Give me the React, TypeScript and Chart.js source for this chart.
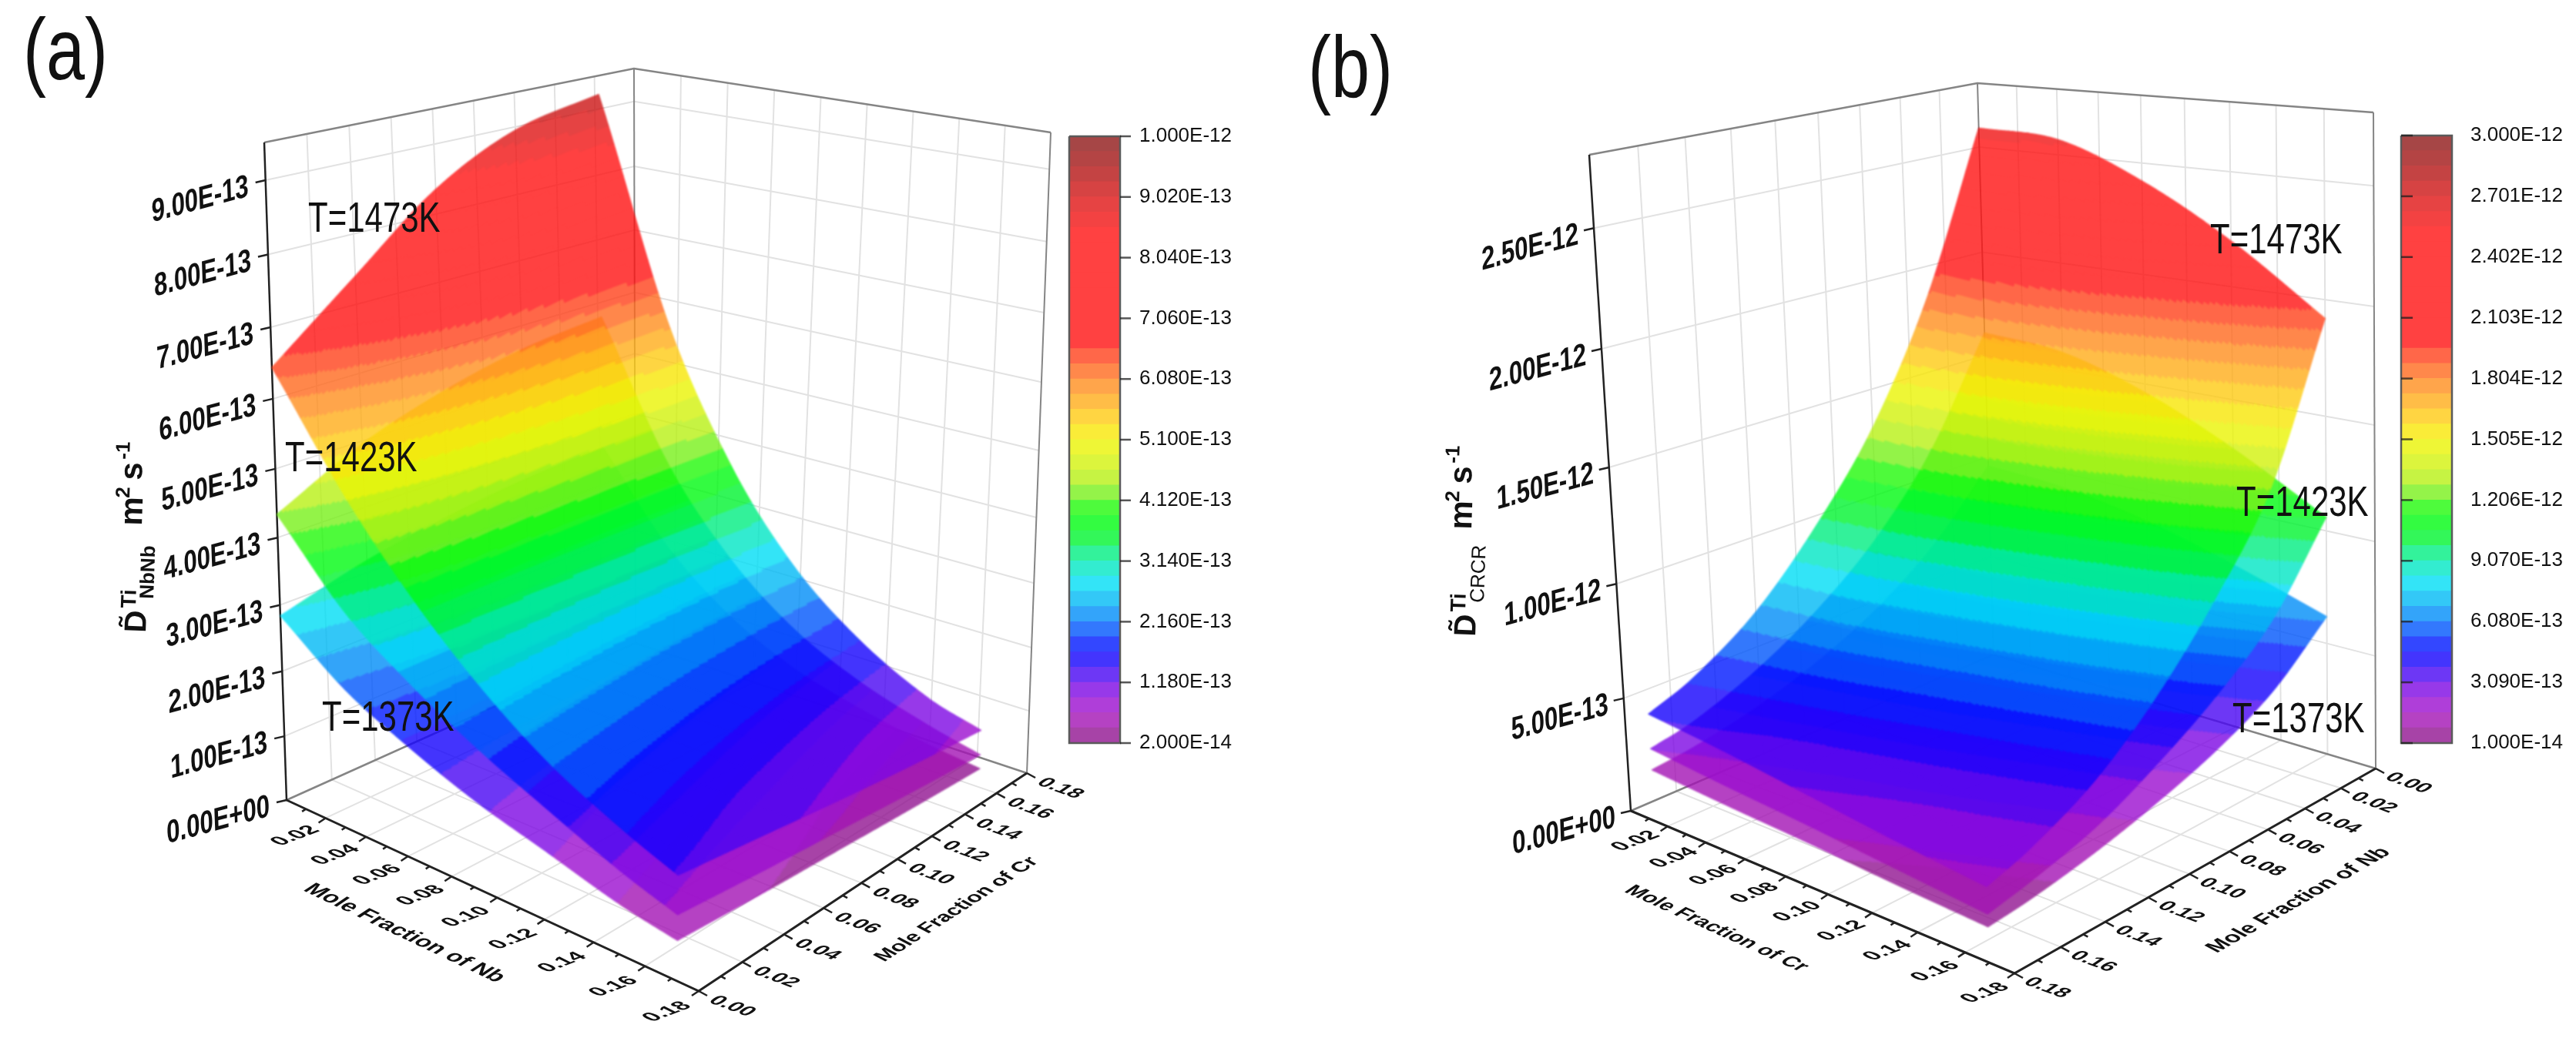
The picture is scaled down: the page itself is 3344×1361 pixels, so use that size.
import { useEffect, useRef } from "react";
import { Chart, registerables } from "chart.js";
Chart.register(...registerables);

const WIDTH = 3344;
const HEIGHT = 1361;
const FONT = '"Liberation Sans", Arial, sans-serif';

// ---- data ----
const nbNodes = [0, 0.03, 0.06, 0.09, 0.12, 0.15, 0.172];
const crNodes = [0, 0.04, 0.08, 0.12, 0.162];
const nbNodesB = [0, 0.03, 0.06, 0.09, 0.12, 0.15, 0.17];
const crNodesB = [0, 0.04, 0.08, 0.12, 0.16];

// panel (a), rows = Nb, columns = Cr, unit 1e-13
const a1473 = [
  [6.44, 7.4, 8.35, 8.95, 9.22],
  [4.95, 5.35, 5.65, 5.85, 5.95],
  [3.8, 3.85, 3.88, 3.9, 3.9],
  [2.9, 2.8, 2.7, 2.62, 2.55],
  [2.2, 2.05, 1.9, 1.78, 1.68],
  [1.7, 1.52, 1.37, 1.23, 1.1],
  [1.4, 1.25, 1.1, 0.97, 0.86],
];
const a1423 = [
  [4.34, 4.95, 5.35, 5.62, 5.76],
  [3.25, 3.5, 3.62, 3.68, 3.7],
  [2.55, 2.52, 2.48, 2.44, 2.4],
  [2.0, 1.88, 1.77, 1.66, 1.55],
  [1.55, 1.4, 1.26, 1.13, 1.02],
  [1.13, 1.0, 0.88, 0.77, 0.67],
  [0.88, 0.76, 0.66, 0.56, 0.47],
];
const a1373 = [
  [2.84, 3.18, 3.4, 3.55, 3.62],
  [2.1, 2.22, 2.28, 2.3, 2.3],
  [1.62, 1.58, 1.53, 1.48, 1.44],
  [1.24, 1.14, 1.05, 0.97, 0.9],
  [0.96, 0.84, 0.74, 0.65, 0.58],
  [0.68, 0.58, 0.5, 0.42, 0.36],
  [0.54, 0.45, 0.38, 0.31, 0.25],
];
// panel (b), rows = Nb, columns = Cr, unit 1e-12
const b1473 = [
  [2.59, 2.57, 2.42, 2.2, 1.92],
  [1.85, 1.8, 1.68, 1.5, 1.29],
  [1.32, 1.27, 1.17, 1.05, 0.92],
  [0.95, 0.9, 0.82, 0.73, 0.63],
  [0.66, 0.62, 0.55, 0.48, 0.41],
  [0.47, 0.42, 0.37, 0.32, 0.27],
  [0.39, 0.35, 0.3, 0.25, 0.207],
];
const b1423 = [
  [1.61, 1.58, 1.46, 1.28, 1.06],
  [1.13, 1.09, 0.99, 0.86, 0.72],
  [0.8, 0.76, 0.68, 0.6, 0.51],
  [0.57, 0.53, 0.47, 0.41, 0.35],
  [0.4, 0.36, 0.32, 0.27, 0.22],
  [0.28, 0.25, 0.21, 0.18, 0.14],
  [0.235, 0.2, 0.17, 0.135, 0.1],
];
const b1373 = [
  [0.955, 0.93, 0.86, 0.75, 0.62],
  [0.67, 0.64, 0.58, 0.5, 0.41],
  [0.47, 0.44, 0.4, 0.34, 0.28],
  [0.33, 0.3, 0.27, 0.23, 0.19],
  [0.23, 0.21, 0.18, 0.15, 0.12],
  [0.165, 0.145, 0.12, 0.095, 0.07],
  [0.14, 0.115, 0.095, 0.07, 0.05],
];

const fractionTicks = [0.02, 0.04, 0.06, 0.08, 0.1, 0.12, 0.14, 0.16, 0.18];
const fractionLabelsV = ["0.00", "0.02", "0.04", "0.06", "0.08", "0.10", "0.12", "0.14", "0.16", "0.18"];
const zTickValuesA = [0, 1e-13, 2e-13, 3e-13, 4e-13, 5e-13, 6e-13, 7e-13, 8e-13, 9e-13];
const zTickLabelsA = ["0.00E+00", "1.00E-13", "2.00E-13", "3.00E-13", "4.00E-13", "5.00E-13", "6.00E-13", "7.00E-13", "8.00E-13", "9.00E-13"];
const zTickValuesB = [0, 5e-13, 1e-12, 1.5e-12, 2e-12, 2.5e-12];
const zTickLabelsB = ["0.00E+00", "5.00E-13", "1.00E-12", "1.50E-12", "2.00E-12", "2.50E-12"];
const cbValuesA = [1e-12, 9.02e-13, 8.04e-13, 7.06e-13, 6.08e-13, 5.1e-13, 4.12e-13, 3.14e-13, 2.16e-13, 1.18e-13, 2e-14];
const cbLabelsA = ["1.000E-12", "9.020E-13", "8.040E-13", "7.060E-13", "6.080E-13", "5.100E-13", "4.120E-13", "3.140E-13", "2.160E-13", "1.180E-13", "2.000E-14"];
const cbValuesB = [3e-12, 2.701e-12, 2.402e-12, 2.103e-12, 1.804e-12, 1.505e-12, 1.206e-12, 9.07e-13, 6.08e-13, 3.09e-13, 1e-14];
const cbLabelsB = ["3.000E-12", "2.701E-12", "2.402E-12", "2.103E-12", "1.804E-12", "1.505E-12", "1.206E-12", "9.070E-13", "6.080E-13", "3.090E-13", "1.000E-14"];

// colour scale stops: position along the bar, r, g, b
const colourStops = [
  [0, 130, 20, 125], [0.025, 160, 20, 165], [0.05, 165, 18, 195], [0.075, 145, 10, 220], [0.1, 105, 5, 235], [0.125, 40, 5, 250], [0.15, 0, 0, 255],
  [0.17, 0, 40, 255], [0.2, 0, 120, 250], [0.24, 0, 190, 245], [0.265, 0, 225, 245], [0.3, 0, 235, 170],
  [0.34, 0, 245, 40], [0.38, 0, 255, 0], [0.4, 90, 240, 30], [0.44, 190, 240, 20], [0.5, 245, 245, 0],
  [0.54, 255, 200, 20], [0.59, 255, 140, 30], [0.63, 255, 80, 30], [0.66, 255, 18, 18], [0.84, 255, 18, 18],
  [0.9, 215, 20, 20], [0.95, 170, 20, 20], [1, 135, 25, 25],
];
const LEVELS = 40;
const ALPHA = 0.8;

// ---- view geometry ----
function quadMap(p0, p1, p2, p3) {
  const [x0, y0] = p0, [x1, y1] = p1, [x2, y2] = p2, [x3, y3] = p3;
  const dx1 = x1 - x2, dx2 = x3 - x2, sx = x0 - x1 + x2 - x3;
  const dy1 = y1 - y2, dy2 = y3 - y2, sy = y0 - y1 + y2 - y3;
  const det = dx1 * dy2 - dx2 * dy1;
  const g = (sx * dy2 - dx2 * sy) / det, h = (dx1 * sy - sx * dy1) / det;
  const a = x1 - x0 + g * x1, b = x3 - x0 + h * x3, d = y1 - y0 + g * y1, e = y3 - y0 + h * y3;
  return (u, v) => {
    const w = g * u + h * v + 1;
    return [(a * u + b * v + x0) / w, (d * u + e * v + y0) / w];
  };
}

function makeView(o) {
  const floor = quadMap(o.L, o.F, o.R, o.B);
  const top = quadMap(o.TL, o.TF, o.TR, o.TB);
  const project = (u, v, z) => {
    const f = floor(u, v), t = top(u, v);
    const w = z / o.zMax;
    const s = w / (1 + o.q * (1 - w));
    return { x: f[0] + (t[0] - f[0]) * s, y: f[1] + (t[1] - f[1]) * s };
  };
  return { ...o, project };
}

const viewA = makeView({
  L: [372, 1039], F: [907, 1287], R: [1333, 1004], B: [825, 835],
  TL: [343, 185], TF: [915, 270], TR: [1364, 172], TB: [823, 89],
  zMax: 9.5e-13, q: 0.095,
  toUV: (nb, cr) => [nb / 0.18, cr / 0.18],
  cMin: 2e-14, cMax: 1e-12,
});
const viewB = makeView({
  L: [2117, 1053], F: [2615, 1264], R: [3084, 998], B: [2588, 850],
  TL: [2063, 201], TF: [2582, 261], TR: [3081, 146], TB: [2567, 108],
  zMax: 2.8e-12, q: 0.05,
  toUV: (nb, cr) => [cr / 0.18, 1 - nb / 0.18],
  cMin: 1e-14, cMax: 3e-12,
});

function colourAt(t) {
  for (let i = 1; i < colourStops.length; i++) {
    if (t <= colourStops[i][0]) {
      const a = colourStops[i - 1], b = colourStops[i];
      const k = (t - a[0]) / (b[0] - a[0]);
      return [a[1] + (b[1] - a[1]) * k, a[2] + (b[2] - a[2]) * k, a[3] + (b[3] - a[3]) * k];
    }
  }
  return colourStops[colourStops.length - 1].slice(1);
}
const levelColour = (i) => colourAt((i + 0.5) / LEVELS);
const css = (c) => `rgb(${Math.round(c[0])},${Math.round(c[1])},${Math.round(c[2])})`;
const onWhite = (c) => c.map((v) => v * ALPHA + 255 * (1 - ALPHA));

// Hermite curve through table nodes, only used to shade between the read values
function curve(xs, ys, x) {
  const n = xs.length;
  let i = 0;
  while (i < n - 2 && x > xs[i + 1]) i++;
  const h = xs[i + 1] - xs[i];
  const slope = (j) =>
    j === 0 ? (ys[1] - ys[0]) / (xs[1] - xs[0])
      : j === n - 1 ? (ys[n - 1] - ys[n - 2]) / (xs[n - 1] - xs[n - 2])
        : (ys[j + 1] - ys[j - 1]) / (xs[j + 1] - xs[j - 1]);
  const t = (x - xs[i]) / h, t2 = t * t, t3 = t2 * t;
  return (2 * t3 - 3 * t2 + 1) * ys[i] + (t3 - 2 * t2 + t) * h * slope(i) + (-2 * t3 + 3 * t2) * ys[i + 1] + (t3 - t2) * h * slope(i + 1);
}

// ---- chart content ----
function line(points, color, width, order) {
  return {
    type: "scatter", showLine: true, data: points, borderColor: color, backgroundColor: color,
    borderWidth: width, pointRadius: 0, order, tension: 0, borderCapStyle: "butt", borderJoinStyle: "miter",
  };
}

function axesFor(view, zValues, ds) {
  const GRID = "#e2e2e2", EDGE = "#858585", AXIS = "#222222";
  const p = view.project;
  const K = [1, 2, 3, 4, 5, 6, 7, 8].map((k) => k / 9);
  for (const k of K) {
    ds.push(line([p(0, k, 0), p(0, k, view.zMax)], GRID, 2, 5));
    ds.push(line([p(k, 1, 0), p(k, 1, view.zMax)], GRID, 2, 5));
    ds.push(line([p(k, 0, 0), p(k, 1, 0)], GRID, 2, 5));
    ds.push(line([p(0, k, 0), p(1, k, 0)], GRID, 2, 5));
  }
  for (const z of zValues) {
    if (z === 0) continue;
    ds.push(line([p(0, 0, z), p(0, 1, z)], GRID, 2, 5));
    ds.push(line([p(0, 1, z), p(1, 1, z)], GRID, 2, 5));
  }
  ds.push(line([p(0, 0, view.zMax), p(0, 1, view.zMax), p(1, 1, view.zMax)], EDGE, 2.5, 4));
  ds.push(line([p(0, 1, 0), p(0, 1, view.zMax)], EDGE, 2, 4));
  ds.push(line([p(1, 1, 0), p(1, 1, view.zMax)], EDGE, 2, 4));
  ds.push(line([p(0, 0, 0), p(0, 1, 0), p(1, 1, 0)], EDGE, 2.5, 4));
  ds.push(line([p(0, 0, 0), p(0, 0, view.zMax)], AXIS, 2.5, 3));
  ds.push(line([p(0, 0, 0), p(1, 0, 0), p(1, 1, 0)], AXIS, 3, 3));
  for (let i = 1; i <= 18; i++) {
    const major = i % 2 === 0;
    const a = p(i / 18, 0, 0);
    const k = major ? 1 : 0.55;
    ds.push(line([a, { x: a.x - 9 * k, y: a.y + 6 * k }], AXIS, 2.5, 3));
  }
  for (let i = 0; i <= 18; i++) {
    const major = i % 2 === 0;
    const a = p(1, i / 18, 0);
    const k = major ? 1 : 0.55;
    ds.push(line([a, { x: a.x + 11 * k, y: a.y + 6 * k }], AXIS, 2.5, 3));
  }
  for (const z of zValues) {
    const a = p(0, 0, z);
    ds.push(line([a, { x: a.x - 13, y: a.y + 3 }], AXIS, 2.5, 3));
  }
}

function colourBar(view, bar, cbValues, ds) {
  const yOf = (v) => bar.top + ((view.cMax - v) / (view.cMax - view.cMin)) * (bar.bottom - bar.top);
  const step = (view.cMax - view.cMin) / LEVELS;
  const cx = (bar.left + bar.right) / 2;
  for (let i = 0; i < LEVELS; i++) {
    const lo = view.cMin + i * step, hi = lo + step;
    ds.push(line([{ x: cx, y: yOf(lo) + 0.5 }, { x: cx, y: yOf(hi) - 0.5 }], css(onWhite(levelColour(i))), bar.right - bar.left, 6));
  }
  ds.push(line([
    { x: bar.left, y: bar.top }, { x: bar.right, y: bar.top }, { x: bar.right, y: bar.bottom },
    { x: bar.left, y: bar.bottom }, { x: bar.left, y: bar.top },
  ], "#5a5a5a", 2.5, 2));
  for (const v of cbValues) {
    const y = yOf(v);
    const pts = bar.tickInside
      ? [{ x: bar.left, y }, { x: bar.left + 15, y }]
      : [{ x: bar.right, y }, { x: bar.right + 14, y }];
    ds.push(line(pts, "rgba(30,30,30,0.75)", 2.5, 1));
  }
  return yOf;
}

function surfaceSet(view, table, unit, nbs, crs) {
  const pts = [];
  nbs.forEach((nb, i) => crs.forEach((cr, j) => {
    const [u, v] = view.toUV(nb, cr);
    pts.push(view.project(u, v, table[i][j] * unit));
  }));
  return {
    type: "scatter", data: pts, showLine: false, pointRadius: 0, order: 7,
    surface: { view, table, unit, nbs, crs },
  };
}

function text(list, t, x, y, font, m, align, baseline, color) {
  list.push({ t, x, y, font, m: m || [1, 0, 0, 1], align: align || "left", baseline: baseline || "middle", color: color || "#111" });
}

function buildAll() {
  const ds = [];
  const tx = [];
  const B = `bold`;

  // panel (a)
  axesFor(viewA, zTickValuesA, ds);
  const yA = colourBar(viewA, { left: 1388, right: 1454, top: 177, bottom: 965, tickInside: false }, cbValuesA, ds);
  // panel (b)
  axesFor(viewB, zTickValuesB, ds);
  const yB = colourBar(viewB, { left: 3117, right: 3183, top: 176, bottom: 965, tickInside: true }, cbValuesB, ds);

  ds.push(surfaceSet(viewA, a1373, 1e-13, nbNodes, crNodes));
  ds.push(surfaceSet(viewA, a1423, 1e-13, nbNodes, crNodes));
  ds.push(surfaceSet(viewA, a1473, 1e-13, nbNodes, crNodes));
  ds.push(surfaceSet(viewB, b1373, 1e-12, nbNodesB, crNodesB));
  ds.push(surfaceSet(viewB, b1423, 1e-12, nbNodesB, crNodesB));
  ds.push(surfaceSet(viewB, b1473, 1e-12, nbNodesB, crNodesB));

  const zMat = [1, -0.27, 0.05, 1.35];
  zTickValuesA.forEach((z, i) => {
    const a = viewA.project(0, 0, z);
    text(tx, zTickLabelsA[i], a.x - 22, a.y + 9, `${B} 31px ${FONT}`, zMat, "right");
  });
  zTickValuesB.forEach((z, i) => {
    const a = viewB.project(0, 0, z);
    text(tx, zTickLabelsB[i], a.x - 20, a.y + 9, `${B} 31px ${FONT}`, zMat, "right");
  });
  cbValuesA.forEach((v, i) => text(tx, cbLabelsA[i], 1479, yA(v), `26px ${FONT}`));
  cbValuesB.forEach((v, i) => text(tx, cbLabelsB[i], 3207, yB(v), `26px ${FONT}`));

  const tickFont = `bold 27px ${FONT}`;
  const upLeft = [1, -0.38, 0.9, 0.45];
  const downRight = [1, 0.37, -0.78, 0.52];
  fractionTicks.forEach((f, i) => {
    const a = viewA.project(f / 0.18, 0, 0);
    text(tx, f.toFixed(2), a.x - 13 - i * 0.2, a.y + 13 + i * 0.5, tickFont, upLeft, "right");
    const b = viewB.project(f / 0.18, 0, 0);
    text(tx, f.toFixed(2), b.x - 15 + i * 0.4, b.y + 9 + i * 0.8, tickFont, upLeft, "right");
  });
  fractionLabelsV.forEach((lab, i) => {
    const a = viewA.project(1, i / 9, 0);
    text(tx, lab, a.x + 17, a.y + 10, tickFont, downRight, "left");
    const b = viewB.project(1, i / 9, 0);
    text(tx, fractionLabelsV[9 - i], b.x + 16, b.y + 9, tickFont, downRight, "left");
  });

  text(tx, "Mole Fraction of Nb", 525, 1212, `bold 30px ${FONT}`, [0.9, 0.43, -0.78, 0.52], "center");
  text(tx, "Mole Fraction of Cr", 1242, 1181, `bold 26px ${FONT}`, [0.85, -0.55, 0.9, 0.48], "center");
  text(tx, "Mole Fraction of Cr", 2228, 1206, `bold 28px ${FONT}`, [0.9, 0.41, -0.78, 0.52], "center");
  text(tx, "Mole Fraction of Nb", 2984, 1169, `bold 28px ${FONT}`, [0.87, -0.5, 0.9, 0.48], "center");

  const tMat = [1, 0, 0, 1.33];
  const tFont = `42px ${FONT}`;
  text(tx, "T=1473K", 400, 301, tFont, tMat, "left", "alphabetic");
  text(tx, "T=1423K", 370, 612, tFont, tMat, "left", "alphabetic");
  text(tx, "T=1373K", 418, 949, tFont, tMat, "left", "alphabetic");
  text(tx, "T=1473K", 2869, 329, tFont, tMat, "left", "alphabetic");
  text(tx, "T=1423K", 2903, 670, tFont, tMat, "left", "alphabetic");
  text(tx, "T=1373K", 2898, 951, tFont, tMat, "left", "alphabetic");

  const pMat = [1, 0, 0, 1.25];
  text(tx, "(a)", 30, 103, `90px ${FONT}`, pMat, "left", "alphabetic");
  text(tx, "(b)", 1698, 126, `90px ${FONT}`, pMat, "left", "alphabetic");

  // rotated axis titles
  const R = [0.035, -0.999, 0.999, 0.035];
  const title = (dx, dy, sub, subX, subFont) => {
    text(tx, "D\u0303", 189 + dx, 822 + dy, `bold 40px ${FONT}`, R, "left", "alphabetic");
    text(tx, "Ti", 176 + dx, 790 + dy, `bold 28px ${FONT}`, R, "left", "alphabetic");
    text(tx, sub, subX, 778 + dy, subFont, R, "left", "alphabetic");
    text(tx, "m", 184 + dx, 683 + dy, `bold 42px ${FONT}`, R, "left", "alphabetic");
    text(tx, "2", 168 + dx, 647 + dy, `bold 26px ${FONT}`, R, "left", "alphabetic");
    text(tx, "s", 184 + dx, 624 + dy, `bold 42px ${FONT}`, R, "left", "alphabetic");
    text(tx, "-1", 168 + dx, 597 + dy, `bold 26px ${FONT}`, R, "left", "alphabetic");
  };
  title(0, 0, "NbNb", 199, `bold 26px ${FONT}`);
  title(1726, 5, "CRCR", 1926, `26px ${FONT}`);

  return { ds, tx };
}

function paintSurface(chart, ctx, s, off, offCtx) {
  const { view, table, unit, nbs, crs } = s;
  const sx = chart.scales.x, sy = chart.scales.y;
  const NX = 300, NY = 220;
  const grid = [];
  const nbMax = nbs[nbs.length - 1], crMax = crs[crs.length - 1];
  for (let j = 0; j <= NY; j++) {
    const cr = (crMax * j) / NY;
    const col = table.map((r) => curve(crs, r, cr));
    const row = [];
    for (let i = 0; i <= NX; i++) {
      const nb = (nbMax * i) / NX;
      const z = curve(nbs, col, nb) * unit;
      const [u, v] = view.toUV(nb, cr);
      const p = view.project(u, v, z);
      row.push([sx.getPixelForValue(p.x), sy.getPixelForValue(p.y), z]);
    }
    grid.push(row);
  }
  const paths = Array.from({ length: LEVELS }, () => new Path2D());
  for (let j = 0; j < NY; j++) {
    for (let i = 0; i < NX; i++) {
      const a = grid[j][i], b = grid[j][i + 1], c = grid[j + 1][i + 1], d = grid[j + 1][i];
      const z = (a[2] + b[2] + c[2] + d[2]) / 4;
      const t = (z - view.cMin) / (view.cMax - view.cMin);
      const lvl = Math.max(0, Math.min(LEVELS - 1, Math.floor(t * LEVELS)));
      const path = paths[lvl];
      path.moveTo(a[0], a[1]);
      path.lineTo(b[0], b[1]);
      path.lineTo(c[0], c[1]);
      path.lineTo(d[0], d[1]);
      path.closePath();
    }
  }
  offCtx.clearRect(0, 0, off.width, off.height);
  offCtx.lineWidth = 1.2;
  offCtx.lineJoin = "round";
  paths.forEach((path, i) => {
    const col = css(levelColour(i));
    offCtx.fillStyle = col;
    offCtx.strokeStyle = col;
    offCtx.stroke(path);
    offCtx.fill(path);
  });
  ctx.save();
  ctx.globalAlpha = ALPHA;
  ctx.filter = "blur(1.3px)";
  ctx.drawImage(off, 0, 0);
  ctx.restore();
}

const artPlugin = {
  id: "art",
  afterDatasetsDraw(chart) {
    const ctx = chart.ctx;
    const off = document.createElement("canvas");
    off.width = chart.width;
    off.height = chart.height;
    const offCtx = off.getContext("2d");
    chart.data.datasets.forEach((d) => {
      if (d.surface) paintSurface(chart, ctx, d.surface, off, offCtx);
    });
    const sx = chart.scales.x, sy = chart.scales.y;
    for (const it of chart.options.plugins.art.items) {
      ctx.save();
      ctx.transform(it.m[0], it.m[1], it.m[2], it.m[3], sx.getPixelForValue(it.x), sy.getPixelForValue(it.y));
      ctx.font = it.font;
      ctx.textAlign = it.align;
      ctx.textBaseline = it.baseline;
      ctx.fillStyle = it.color;
      ctx.fillText(it.t, 0, 0);
      ctx.restore();
    }
  },
};

export default function App() {
  const ref = useRef(null);
  useEffect(() => {
    const { ds, tx } = buildAll();
    const chart = new Chart(ref.current, {
      type: "scatter",
      data: { datasets: ds },
      plugins: [artPlugin],
      options: {
        responsive: false,
        animation: false,
        layout: { padding: 0 },
        events: [],
        plugins: { legend: { display: false }, tooltip: { enabled: false }, art: { items: tx } },
        scales: {
          x: { type: "linear", min: 0, max: WIDTH, display: false },
          y: { type: "linear", min: 0, max: HEIGHT, reverse: true, display: false },
        },
      },
    });
    return () => chart.destroy();
  }, []);
  return (
    <div style={{ position: "absolute", left: 0, top: 0, width: WIDTH, height: HEIGHT, background: "#fff" }}>
      <canvas ref={ref} width={WIDTH} height={HEIGHT} style={{ display: "block" }} />
    </div>
  );
}
